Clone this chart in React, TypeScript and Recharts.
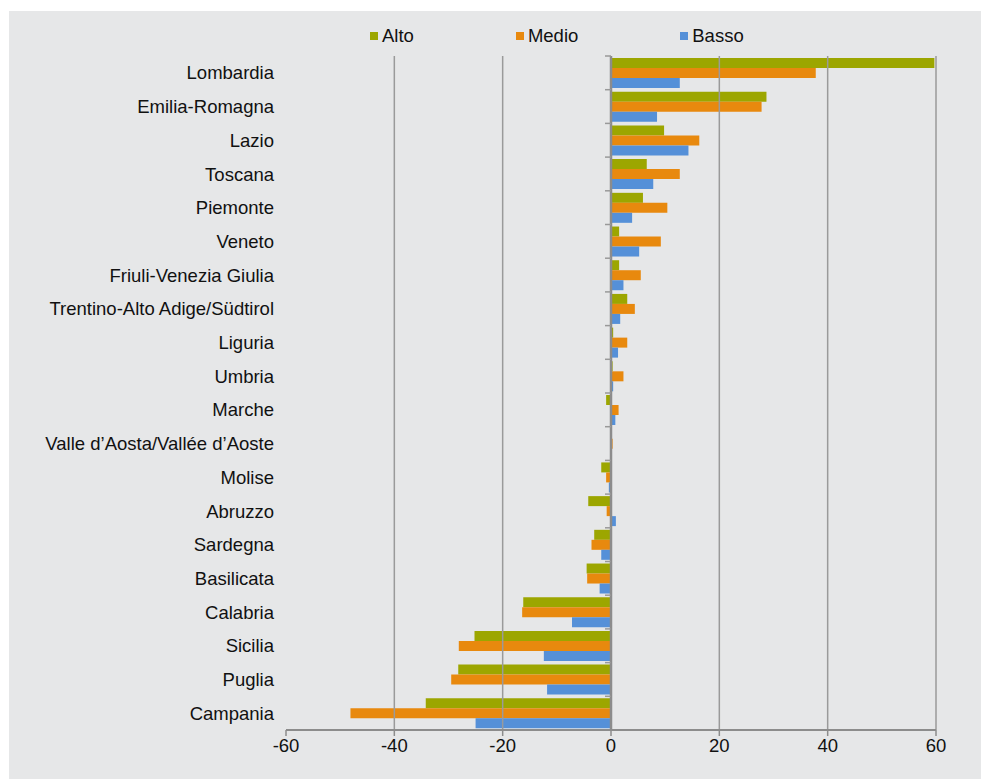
import { BarChart, Bar, XAxis, YAxis, ReferenceLine } from 'recharts'

const regions = [
  'Lombardia',
  'Emilia-Romagna',
  'Lazio',
  'Toscana',
  'Piemonte',
  'Veneto',
  'Friuli-Venezia Giulia',
  'Trentino-Alto Adige/Südtirol',
  'Liguria',
  'Umbria',
  'Marche',
  'Valle d’Aosta/Vallée d’Aoste',
  'Molise',
  'Abruzzo',
  'Sardegna',
  'Basilicata',
  'Calabria',
  'Sicilia',
  'Puglia',
  'Campania',
]

const alto = [59.7, 28.7, 9.8, 6.6, 5.9, 1.5, 1.5, 3.0, 0.4, 0.3, -0.9, 0, -1.8, -4.2, -3.1, -4.5, -16.2, -25.2, -28.2, -34.2]
const medio = [37.8, 27.8, 16.3, 12.7, 10.4, 9.2, 5.5, 4.4, 3.0, 2.3, 1.4, 0.3, -0.9, -0.8, -3.6, -4.4, -16.4, -28.1, -29.5, -48.1]
const basso = [12.7, 8.5, 14.3, 7.8, 3.9, 5.2, 2.3, 1.7, 1.3, 0.4, 0.8, 0, -0.4, 0.9, -1.8, -2.1, -7.2, -12.4, -11.8, -25.0]

const xTicks = [-60, -40, -20, 0, 20, 40, 60]
const gridValues = [-40, -20, 20, 40, 60]

const series = [
  { key: 'alto', name: 'Alto', color: '#9ca600' },
  { key: 'medio', name: 'Medio', color: '#e8890e' },
  { key: 'basso', name: 'Basso', color: '#5590d8' },
]

const data = regions.map((r, i) => ({ region: r, alto: alto[i], medio: medio[i], basso: basso[i] }))

const font = '"Liberation Sans", Arial, sans-serif'
const fs = 18.5

const W = 972
const H = 768
const margin = { top: 45, right: 45, bottom: 19, left: 0 }
const yAxisW = 277
const xAxisH = 30
const plotW = W - margin.left - margin.right - yAxisW
const plotH = H - margin.top - margin.bottom - xAxisH
const band = plotH / regions.length
// x position of the zero line (domain is symmetric)
const zeroX = margin.left + yAxisW + plotW / 2

function CategoryTick(props: any) {
  const { x, y, payload } = props
  return (
    <g>
      <line x1={zeroX - 6} x2={zeroX} y1={y - band / 2} y2={y - band / 2} stroke="#999" strokeWidth={1.5} />
      <text x={x} y={y} dy="0.355em" textAnchor="end" fill="#111" fontSize={fs}>
        {payload.value}
      </text>
    </g>
  )
}

function LegendRow() {
  return (
    <div
      style={{
        position: 'absolute',
        left: 361,
        top: 14,
        display: 'flex',
        gap: 102,
        fontFamily: font,
        fontSize: fs,
        lineHeight: '22px',
        color: '#111',
      }}
    >
      {series.map((s) => (
        <div key={s.key} style={{ display: 'flex', alignItems: 'center' }}>
          <span style={{ width: 8, height: 8, background: s.color, marginRight: 4 }} />
          <span>{s.name}</span>
        </div>
      ))}
    </div>
  )
}

export default function App() {
  return (
    <>
      <style>{'html,body{overflow:hidden}::-webkit-scrollbar{display:none}'}</style>
      <div style={{ position: 'fixed', left: 9, top: 11, width: 1000, height: 800, background: '#e6e7e8' }}>
        <LegendRow />
        <BarChart
          width={W}
          height={H}
          data={data}
          layout="vertical"
          barCategoryGap="6%"
          barGap={0}
          margin={margin}
          style={{ fontFamily: font }}
        >
          {gridValues.map((v) => (
            <ReferenceLine key={v} x={v} stroke="#9a9a9a" strokeWidth={1.5} />
          ))}
          <XAxis
            type="number"
            domain={[-60, 60]}
            ticks={xTicks}
            allowDataOverflow
            height={xAxisH}
            tickSize={6}
            tickMargin={3}
            axisLine={{ stroke: '#8c8c8c', strokeWidth: 2 }}
            tickLine={{ stroke: '#8c8c8c', strokeWidth: 1.5 }}
            tick={{ fill: '#111', fontSize: fs }}
          />
          <YAxis
            type="category"
            dataKey="region"
            width={yAxisW}
            tickSize={6}
            tickMargin={6}
            axisLine={false}
            tickLine={false}
            interval={0}
            tick={<CategoryTick />}
          />
          {series.map((s) => (
            <Bar key={s.key} dataKey={s.key} name={s.name} fill={s.color} isAnimationActive={false} />
          ))}
          <ReferenceLine x={0} stroke="#8c8c8c" strokeWidth={2.5} />
        </BarChart>
      </div>
    </>
  )
}
